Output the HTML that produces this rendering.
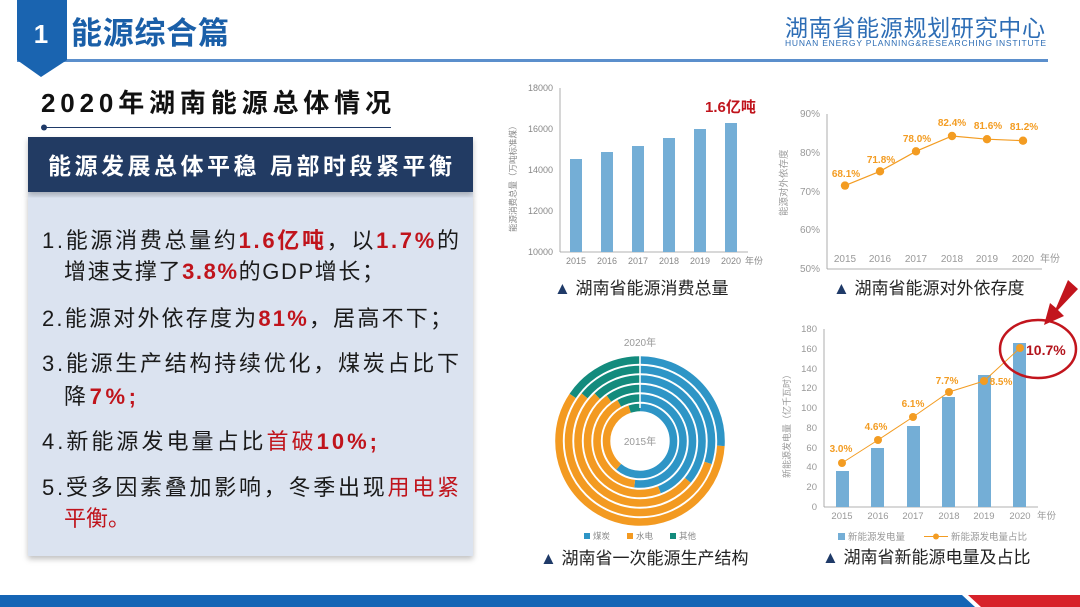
<!DOCTYPE html>
<html><head><meta charset="utf-8"><style>
html,body{margin:0;padding:0;background:#fff;}
svg{display:block;}
text{font-family:"Liberation Sans","Noto Sans CJK SC",sans-serif;}
</style></head><body>
<svg width="1080" height="607" viewBox="0 0 1080 607" xmlns="http://www.w3.org/2000/svg">
<defs>
<filter id="sh" x="-5%" y="-5%" width="110%" height="115%"><feDropShadow dx="0" dy="3" stdDeviation="3" flood-color="#000" flood-opacity="0.25"/></filter>
</defs>
<!-- header -->
<rect x="17" y="59" width="1031" height="3" fill="#5b8fcc"/>
<polygon points="17,0 67,0 67,60 41,77 17,60" fill="#1a64b0"/>
<text x="41" y="43" font-size="26" font-weight="bold" fill="#fff" text-anchor="middle">1</text>
<text x="71" y="44" font-size="31" font-weight="bold" fill="#1a5fa8" textLength="158">能源综合篇</text>
<text x="785" y="36" font-size="23" fill="#2d6db5" textLength="260">湖南省能源规划研究中心</text>
<text x="785" y="46" font-size="8.5" fill="#2d6db5" textLength="261">HUNAN ENERGY PLANNING&amp;RESEARCHING INSTITUTE</text>
<!-- section title -->
<text x="41" y="112" font-size="26" font-weight="bold" fill="#111" textLength="350">2020年湖南能源总体情况</text>
<rect x="43" y="127" width="348" height="1" fill="#1f3a68"/>
<circle cx="44" cy="127.5" r="3" fill="#1f3a68"/>
<!-- boxes -->
<rect x="28" y="192" width="445" height="364" fill="#dbe3f0" filter="url(#sh)"/>
<rect x="28" y="137" width="445" height="55" fill="#243a63" filter="url(#sh)"/>
<text x="48" y="174" font-size="23" font-weight="bold" fill="#fff" textLength="404">能源发展总体平稳  局部时段紧平衡</text>
<g font-size="22" fill="#1a1a1a">
<text x="42" y="248" textLength="417">1.能源消费总量约<tspan fill="#c0141c" font-weight="bold">1.6亿吨</tspan>，以<tspan fill="#c0141c" font-weight="bold">1.7%</tspan>的</text>
<text x="64" y="279" textLength="320">增速支撑了<tspan fill="#c0141c" font-weight="bold">3.8%</tspan>的GDP增长；</text>
<text x="42" y="326" textLength="410">2.能源对外依存度为<tspan fill="#c0141c" font-weight="bold">81%</tspan>，居高不下；</text>
<text x="42" y="371" textLength="417">3.能源生产结构持续优化，煤炭占比下</text>
<text x="64" y="404" textLength="72">降<tspan fill="#c0141c" font-weight="bold">7%;</tspan></text>
<text x="42" y="449" textLength="335">4.新能源发电量占比<tspan fill="#c0141c">首破</tspan><tspan fill="#c0141c" font-weight="bold">10%;</tspan></text>
<text x="42" y="495" textLength="417">5.受多因素叠加影响，冬季出现<tspan fill="#c0141c">用电紧</tspan></text>
<text x="64" y="526" fill="#c0141c">平衡。</text>
</g>
<!-- bottom bar -->
<rect x="0" y="595" width="1080" height="12" fill="#1565b5"/>
<polygon points="962,595 1080,595 1080,607 975,607" fill="#fff"/>
<polygon points="968,595 1080,595 1080,607 981,607" fill="#d7222a"/>

<!-- chart1 -->
<g font-size="9" fill="#888">
<line x1="560" y1="88" x2="560" y2="252" stroke="#999" stroke-width="0.8"/>
<line x1="560" y1="252" x2="748" y2="252" stroke="#999" stroke-width="0.8"/>
<text x="553" y="91" text-anchor="end">18000</text>
<text x="553" y="132" text-anchor="end">16000</text>
<text x="553" y="173" text-anchor="end">14000</text>
<text x="553" y="214" text-anchor="end">12000</text>
<text x="553" y="255" text-anchor="end">10000</text>
<g fill="#74aed6">
<rect x="570" y="159" width="12" height="93"/>
<rect x="601" y="152" width="12" height="100"/>
<rect x="632" y="146" width="12" height="106"/>
<rect x="663" y="138" width="12" height="114"/>
<rect x="694" y="129" width="12" height="123"/>
<rect x="725" y="123" width="12" height="129"/>
</g>
<text x="576" y="264" text-anchor="middle">2015</text>
<text x="607" y="264" text-anchor="middle">2016</text>
<text x="638" y="264" text-anchor="middle">2017</text>
<text x="669" y="264" text-anchor="middle">2018</text>
<text x="700" y="264" text-anchor="middle">2019</text>
<text x="731" y="264" text-anchor="middle">2020</text>
<text x="745" y="264">年份</text>
<text transform="translate(516,232) rotate(-90)" font-size="8.5">能源消费总量（万吨标准煤）</text>
</g>
<text x="705" y="112" font-size="15" font-weight="bold" fill="#c0141c">1.6亿吨</text>
<text x="554" y="294" font-size="17" fill="#222"><tspan fill="#1f3a68">▲</tspan> 湖南省能源消费总量</text>

<!-- chart2 -->
<g font-size="10" fill="#999">
<line x1="827" y1="114" x2="827" y2="269" stroke="#999" stroke-width="0.8"/>
<line x1="827" y1="269" x2="1042" y2="269" stroke="#999" stroke-width="0.8"/>
<text x="820" y="117" text-anchor="end">90%</text>
<text x="820" y="156" text-anchor="end">80%</text>
<text x="820" y="195" text-anchor="end">70%</text>
<text x="820" y="233" text-anchor="end">60%</text>
<text x="820" y="272" text-anchor="end">50%</text>
<text x="845" y="262" text-anchor="middle">2015</text>
<text x="880" y="262" text-anchor="middle">2016</text>
<text x="916" y="262" text-anchor="middle">2017</text>
<text x="952" y="262" text-anchor="middle">2018</text>
<text x="987" y="262" text-anchor="middle">2019</text>
<text x="1023" y="262" text-anchor="middle">2020</text>
<text x="1040" y="262">年份</text>
<text transform="translate(787,216) rotate(-90)" font-size="9.5">能源对外依存度</text>
</g>
<polyline points="845,185.6 880,171.3 916,151.3 952,136 987,139.2 1023,140.7" fill="none" stroke="#f39c22" stroke-width="1.2"/>
<g fill="#f39c22"><circle cx="845" cy="185.6" r="4.2"/><circle cx="880" cy="171.3" r="4.2"/><circle cx="916" cy="151.3" r="4.2"/><circle cx="952" cy="136" r="4.2"/><circle cx="987" cy="139.2" r="4.2"/><circle cx="1023" cy="140.7" r="4.2"/></g>
<g font-size="10" font-weight="bold" fill="#f39c22" text-anchor="middle">
<text x="846" y="177">68.1%</text><text x="881" y="163">71.8%</text><text x="917" y="142">78.0%</text><text x="952" y="126">82.4%</text><text x="988" y="129">81.6%</text><text x="1024" y="130">81.2%</text>
</g>
<text x="833" y="294" font-size="17" fill="#222"><tspan fill="#1f3a68">▲</tspan> 湖南省能源对外依存度</text>

<!-- chart3 donut -->
<g transform="translate(640,441) rotate(-90)" fill="none" stroke-width="7.6">
<circle r="33.5" pathLength="100" stroke="#2e95c6" stroke-dasharray="61 100"/>
<circle r="33.5" pathLength="100" stroke="#f39a21" stroke-dasharray="0 61 34 100"/>
<circle r="33.5" pathLength="100" stroke="#138b7d" stroke-dasharray="0 95 5 100"/>
<circle r="43" pathLength="100" stroke="#2e95c6" stroke-dasharray="52 100"/>
<circle r="43" pathLength="100" stroke="#f39a21" stroke-dasharray="0 52 40 100"/>
<circle r="43" pathLength="100" stroke="#138b7d" stroke-dasharray="0 92 8 100"/>
<circle r="52.5" pathLength="100" stroke="#2e95c6" stroke-dasharray="44 100"/>
<circle r="52.5" pathLength="100" stroke="#f39a21" stroke-dasharray="0 44 46 100"/>
<circle r="52.5" pathLength="100" stroke="#138b7d" stroke-dasharray="0 90 10 100"/>
<circle r="62" pathLength="100" stroke="#2e95c6" stroke-dasharray="36 100"/>
<circle r="62" pathLength="100" stroke="#f39a21" stroke-dasharray="0 36 52 100"/>
<circle r="62" pathLength="100" stroke="#138b7d" stroke-dasharray="0 88 12 100"/>
<circle r="71.5" pathLength="100" stroke="#2e95c6" stroke-dasharray="30 100"/>
<circle r="71.5" pathLength="100" stroke="#f39a21" stroke-dasharray="0 30 56 100"/>
<circle r="71.5" pathLength="100" stroke="#138b7d" stroke-dasharray="0 86 14 100"/>
<circle r="81" pathLength="100" stroke="#2e95c6" stroke-dasharray="26 100"/>
<circle r="81" pathLength="100" stroke="#f39a21" stroke-dasharray="0 26 58.5 100"/>
<circle r="81" pathLength="100" stroke="#138b7d" stroke-dasharray="0 84.5 15.5 100"/>
</g>
<line x1="640" y1="355" x2="640" y2="408" stroke="#fff" stroke-width="1.5"/>
<text x="640" y="346" font-size="10" fill="#999" text-anchor="middle">2020年</text>
<text x="640" y="445" font-size="10" fill="#999" text-anchor="middle">2015年</text>
<g font-size="8.5" fill="#888">
<rect x="584" y="533" width="6" height="6" fill="#2e95c6"/><text x="593" y="539">煤炭</text>
<rect x="627" y="533" width="6" height="6" fill="#f39a21"/><text x="636" y="539">水电</text>
<rect x="670" y="533" width="6" height="6" fill="#138b7d"/><text x="679" y="539">其他</text>
</g>
<text x="540" y="564" font-size="17" fill="#222"><tspan fill="#1f3a68">▲</tspan> 湖南省一次能源生产结构</text>

<!-- chart4 -->
<g font-size="9.5" fill="#999">
<line x1="824" y1="329" x2="824" y2="507" stroke="#999" stroke-width="0.8"/>
<line x1="824" y1="507" x2="1038" y2="507" stroke="#999" stroke-width="0.8"/>
<text x="817" y="332" text-anchor="end">180</text>
<text x="817" y="352" text-anchor="end">160</text>
<text x="817" y="372" text-anchor="end">140</text>
<text x="817" y="391" text-anchor="end">120</text>
<text x="817" y="411" text-anchor="end">100</text>
<text x="817" y="431" text-anchor="end">80</text>
<text x="817" y="451" text-anchor="end">60</text>
<text x="817" y="470" text-anchor="end">40</text>
<text x="817" y="490" text-anchor="end">20</text>
<text x="817" y="510" text-anchor="end">0</text>
<g fill="#74aed6">
<rect x="836" y="471" width="13" height="36"/>
<rect x="871" y="448" width="13" height="59"/>
<rect x="907" y="426" width="13" height="81"/>
<rect x="942" y="397" width="13" height="110"/>
<rect x="978" y="375" width="13" height="132"/>
<rect x="1013" y="343" width="13" height="164"/>
</g>
<text x="842" y="519" text-anchor="middle">2015</text>
<text x="878" y="519" text-anchor="middle">2016</text>
<text x="913" y="519" text-anchor="middle">2017</text>
<text x="949" y="519" text-anchor="middle">2018</text>
<text x="984" y="519" text-anchor="middle">2019</text>
<text x="1020" y="519" text-anchor="middle">2020</text>
<text x="1037" y="519">年份</text>
<text transform="translate(790,478) rotate(-90)" font-size="9">新能源发电量（亿千瓦时）</text>
<rect x="838" y="533" width="7" height="7" fill="#74aed6"/><text x="848" y="540">新能源发电量</text>
<line x1="924" y1="536.5" x2="948" y2="536.5" stroke="#f39c22" stroke-width="1"/><circle cx="936" cy="536.5" r="3" fill="#f39c22"/>
<text x="951" y="540">新能源发电量占比</text>
</g>
<polyline points="842,463 878,440 913,417 949,392 984,381 1020,348" fill="none" stroke="#f39c22" stroke-width="1"/>
<g fill="#f39c22"><circle cx="842" cy="463" r="4"/><circle cx="878" cy="440" r="4"/><circle cx="913" cy="417" r="4"/><circle cx="949" cy="392" r="4"/><circle cx="984" cy="381" r="4"/><circle cx="1020" cy="348" r="4"/></g>
<g font-size="10" font-weight="bold" fill="#f39c22" text-anchor="middle">
<text x="841" y="452">3.0%</text><text x="876" y="430">4.6%</text><text x="913" y="407">6.1%</text><text x="947" y="384">7.7%</text><text x="1001" y="385">8.5%</text>
</g>
<text x="1026" y="355" font-size="14" font-weight="bold" fill="#b3141c">10.7%</text>
<ellipse cx="1038" cy="349" rx="38" ry="29" fill="none" stroke="#c2151d" stroke-width="2.5"/>
<polygon points="1068,280 1078,289 1058,310 1064,316 1044,325 1050,303 1056,308" fill="#c2151d"/>
<text x="822" y="563" font-size="17" fill="#222"><tspan fill="#1f3a68">▲</tspan> 湖南省新能源电量及占比</text>
</svg>
</body></html>
